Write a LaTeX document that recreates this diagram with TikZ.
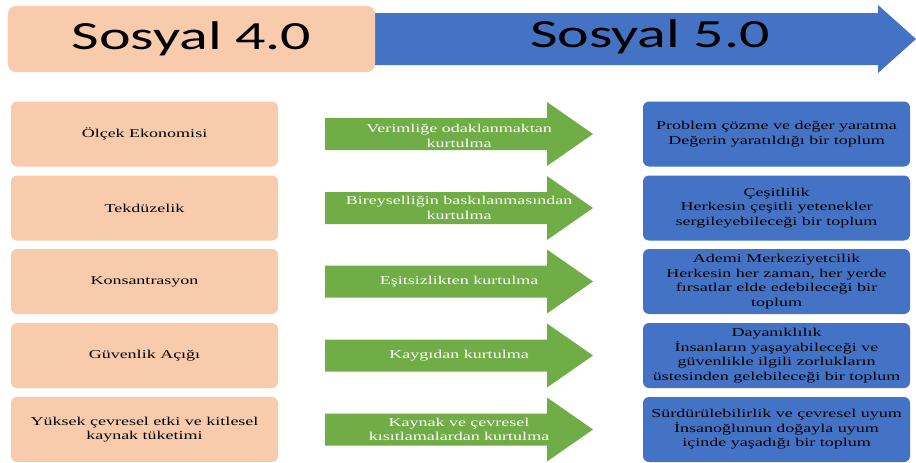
\documentclass[tikz,border=0pt]{standalone}
\usepackage{fontspec}
\setmainfont{Liberation Serif}
\newfontfamily\calibri{Carlito}
\usetikzlibrary{positioning,calc}
\definecolor{peach}{HTML}{F8CBAD}
\definecolor{grn}{HTML}{70AD47}
\definecolor{blu}{HTML}{4472C4}

\begin{document}
\begin{tikzpicture}[x=1pt,y=-1pt,every node/.style={outer sep=0pt},
		wide/.style={xscale=1.5,transform shape},
		oldbox/.style={wide,fill=peach,rounded corners=6pt,minimum width=178pt,minimum height=65pt,inner sep=1pt,align=center,font=\fontsize{12}{14.5}\selectfont},
		newbox/.style={oldbox,fill=blu},
		via/.style={wide,text=white,align=center,inner sep=0pt,font=\fontsize{12}{14.5}\selectfont},
		title/.style={font=\calibri\fontsize{40}{48}\selectfont}
		]
	
		\useasboundingbox[fill=white] (0,0) rectangle (916,463);
		
		% header
		\fill[blu] (372,13) -- (878,13) -- (878,5) -- (916,39) -- (878,73) -- (878,65) -- (372,65) -- cycle;
		\node[oldbox,title,minimum width=244.7pt,minimum height=66pt,rounded corners=8pt] (s4) at (191.5,39) {Sosyal 4.0};
		\node[wide,title] (s5) at (650,37) {Sosyal 5.0};
		
		% Sosyal 4.0 column
		\node[oldbox] (o1) at (144.5,134) {Ölçek Ekonomisi};
		\node[oldbox] (o2) at (144.5,208) {Tekdüzelik};
		\node[oldbox] (o3) at (144.5,281.5) {Konsantrasyon};
		\node[oldbox] (o4) at (144.5,355.5) {Güvenlik Açığı};
		\node[oldbox] (o5) at (144.5,429.5) {Yüksek çevresel etki ve kitlesel\\kaynak tüketimi};
		
		% green arrows
		\fill[grn] (325,118) -- ++(222,0) -- ++(0,-16) -- ++(46,32) -- ++(-46,32) -- ++(0,-16) -- ++(-222,0) -- cycle;
		\fill[grn] (325,192) -- ++(222,0) -- ++(0,-16) -- ++(46,32) -- ++(-46,32) -- ++(0,-16) -- ++(-222,0) -- cycle;
		\fill[grn] (325,265.5) -- ++(222,0) -- ++(0,-16) -- ++(46,32) -- ++(-46,32) -- ++(0,-16) -- ++(-222,0) -- cycle;
		\fill[grn] (325,339.5) -- ++(222,0) -- ++(0,-16) -- ++(46,32) -- ++(-46,32) -- ++(0,-16) -- ++(-222,0) -- cycle;
		\fill[grn] (325,413.5) -- ++(222,0) -- ++(0,-16) -- ++(46,32) -- ++(-46,32) -- ++(0,-16) -- ++(-222,0) -- cycle;
		\node[via] (v1) at (459,136) {Verimliğe odaklanmaktan\\kurtulma};
		\node[via] (v2) at (459,208) {Bireyselliğin baskılanmasından\\kurtulma};
		\node[via] (v3) at (459,281.5) {Eşitsizlikten kurtulma};
		\node[via] (v4) at (459,355.5) {Kaygıdan kurtulma};
		\node[via] (v5) at (459,429.5) {Kaynak ve çevresel\\kısıtlamalardan kurtulma};
		
		% Sosyal 5.0 column
		\node[newbox] (n1) at (776.5,134) {Problem çözme ve değer yaratma\\Değerin yaratıldığı bir toplum};
		\node[newbox] (n2) at (776.5,208) {Çeşitlilik\\Herkesin çeşitli yetenekler\\sergileyebileceği bir toplum};
		\node[newbox] (n3) at (776.5,281.5) {Ademi Merkeziyetcilik\\Herkesin her zaman, her yerde\\fırsatlar elde edebileceği bir\\toplum};
		\node[newbox] (n4) at (776.5,355.5) {Dayanıklılık\\İnsanların yaşayabileceği ve\\güvenlikle ilgili zorlukların\\üstesinden gelebileceği bir toplum};
		\node[newbox] (n5) at (776.5,429.5) {Sürdürülebilirlik ve çevresel uyum\\İnsanoğlunun doğayla uyum\\içinde yaşadığı bir toplum};
	\end{tikzpicture}
\end{document}
